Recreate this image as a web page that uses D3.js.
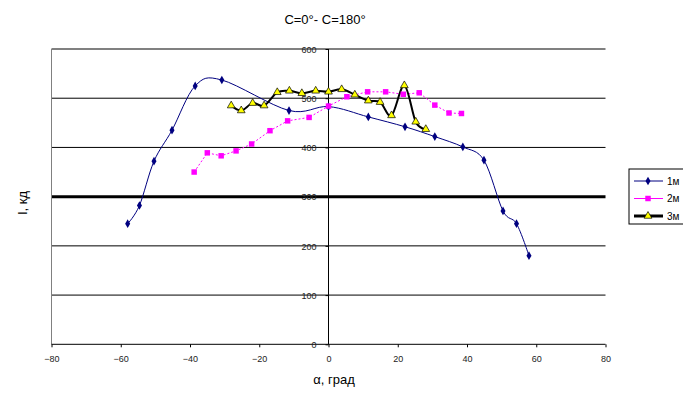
<!DOCTYPE html>
<html><head><meta charset="utf-8">
<script src="https://cdn.jsdelivr.net/npm/d3@7/dist/d3.min.js"></script>
<style>
html,body{margin:0;padding:0;background:#fff;}
svg{display:block;font-family:"Liberation Sans",Arial,sans-serif;}
</style></head>
<body>
<svg id="chart" width="683" height="395"></svg>
<script>
// ---- data ----
const title = "C=0°- C=180°";
const xTicks = [-80, -60, -40, -20, 0, 20, 40, 60, 80];
const yTicks = [0, 100, 200, 300, 400, 500, 600];
const seriesNames = ["1м", "2м", "3м"];
const s1x = [-58, -54.6, -50.4, -45.2, -38.5, -30.8, -11.4, 0, 11.5, 22.1, 30.7, 38.8, 44.9, 50.4, 54.3, 57.9];
const s1y = [245, 282, 372, 435, 525, 537, 475, 483, 462, 442, 422, 401, 374, 271, 245, 180];
const s2x = [-38.8, -35.0, -31.0, -26.7, -22.2, -16.9, -11.8, -5.6, 0, 5.3, 11.3, 16.5, 21.6, 26.2, 30.7, 34.8, 38.4];
const s2y = [350, 389, 383, 393, 407, 434, 454, 461, 484, 503, 513, 513, 508, 511, 486, 470, 469];
const s3x = [-28.1, -25.2, -21.9, -18.6, -14.8, -11.3, -7.7, -3.7, 0, 3.8, 7.6, 11.5, 14.9, 18.2, 21.9, 25.2, 28.1];
const s3y = [485, 475, 490, 485, 512, 515, 510, 515, 513, 518, 507, 495, 492, 465, 526, 452, 437];

const svg = d3.select("#chart");
const L = 51.5, R = 605.5, T = 49, B = 344.3;
const x = d3.scaleLinear().domain([-80, 80]).range([L, R]);
const y = d3.scaleLinear().domain([0, 600]).range([B, T]);

// gridlines
svg.append("g").selectAll("line").data(yTicks.filter(d => d > 0 && d < 600)).join("line")
  .attr("x1", L).attr("x2", R).attr("y1", d => y(d)).attr("y2", d => y(d))
  .attr("stroke", "#000").attr("stroke-width", d => d === 300 ? 3 : 1);

// plot border (top, left)
svg.append("line").attr("x1", L).attr("x2", R).attr("y1", T).attr("y2", T).attr("stroke", "#808080").attr("stroke-width", 2);
svg.append("line").attr("x1", L).attr("x2", L).attr("y1", T).attr("y2", B).attr("stroke", "#808080").attr("stroke-width", 1);

// x axis
const xAxis = d3.axisBottom(x).tickValues(xTicks).tickSize(3).tickPadding(8).tickFormat(d3.format("d"));
const gx = svg.append("g").attr("transform", `translate(0,${B})`).call(xAxis);
gx.select(".domain").attr("stroke", "#000").attr("d", `M${L},0H${R}`);
gx.selectAll(".tick line").attr("stroke", "#000");
gx.selectAll("text").attr("font-size", 9).attr("fill", "#222").attr("font-family", "Liberation Sans, Arial");

// y axis at x=0
const yAxis = d3.axisLeft(y).tickValues(yTicks).tickSize(3).tickPadding(9).tickFormat(d3.format("d"));
const gy = svg.append("g").attr("transform", `translate(${x(0)},0)`).call(yAxis);
gy.select(".domain").attr("stroke", "#000").attr("d", `M0,${T}V${B}`);
gy.selectAll(".tick line").attr("stroke", "#000");
gy.selectAll("text").attr("font-size", 9).attr("fill", "#222").attr("dy", "0.35em").attr("font-family", "Liberation Sans, Arial");

// titles
svg.append("text").attr("x", 325).attr("y", 24).attr("text-anchor", "middle").attr("font-size", 13).text(title);
svg.append("text").attr("x", 334).attr("y", 384).attr("text-anchor", "middle").attr("font-size", 13).text("α, град");
svg.append("text").attr("transform", "translate(27,203) rotate(-90)").attr("text-anchor", "middle").attr("font-size", 13).text("I, кд");

// series
const d1 = s1x.map((v, i) => [v, s1y[i]]);
const d2 = s2x.map((v, i) => [v, s2y[i]]);
const d3s = s3x.map((v, i) => [v, s3y[i]]);

const lineSmooth = d3.line().x(d => x(d[0])).y(d => y(d[1])).curve(d3.curveCardinal.tension(0));
const lineStraight = d3.line().x(d => x(d[0])).y(d => y(d[1]));

svg.append("path").attr("d", lineSmooth(d1)).attr("fill", "none").attr("stroke", "#000080").attr("stroke-width", 1);
svg.append("path").attr("d", lineStraight(d2)).attr("fill", "none").attr("stroke", "#ff00ff").attr("stroke-width", 1).attr("stroke-dasharray", "2,2");
svg.append("path").attr("d", lineSmooth(d3s)).attr("fill", "none").attr("stroke", "#000").attr("stroke-width", 2);

const diamond = d3.symbol().type(d3.symbolDiamond).size(22);
const square = d3.symbol().type(d3.symbolSquare).size(30);
const tri = d3.symbol().type(d3.symbolTriangle).size(26);

svg.append("g").selectAll("path").data(d1).join("path")
  .attr("transform", d => `translate(${x(d[0])},${y(d[1])})`).attr("d", diamond).attr("fill", "#000080");
svg.append("g").selectAll("path").data(d2).join("path")
  .attr("transform", d => `translate(${x(d[0])},${y(d[1])})`).attr("d", square).attr("fill", "#ff00ff");
svg.append("g").selectAll("path").data(d3s).join("path")
  .attr("transform", d => `translate(${x(d[0])},${y(d[1])})`).attr("d", tri).attr("fill", "#ffff00").attr("stroke", "#000").attr("stroke-width", 0.7);

// legend
const lg = svg.append("g");
lg.append("rect").attr("x", 629).attr("y", 169).attr("width", 80).attr("height", 55).attr("fill", "#fff").attr("stroke", "#000");
const ly = [181, 198.5, 216];
const styles = [
  {c: "#000080", w: 1, sym: diamond, f: "#000080", s: null},
  {c: "#ff00ff", w: 1, sym: square, f: "#ff00ff", s: null},
  {c: "#000", w: 3, sym: tri, f: "#ffff00", s: "#000"}
];
seriesNames.forEach((n, i) => {
  const st = styles[i];
  lg.append("line").attr("x1", 634).attr("x2", 663).attr("y1", ly[i]).attr("y2", ly[i]).attr("stroke", st.c).attr("stroke-width", st.w);
  const m = lg.append("path").attr("transform", `translate(648,${ly[i]})`).attr("d", st.sym).attr("fill", st.f);
  if (st.s) m.attr("stroke", st.s).attr("stroke-width", 0.7);
  lg.append("text").attr("x", 667).attr("y", ly[i]).attr("dy", "0.35em").attr("font-size", 10).text(n);
});
</script>
</body></html>
